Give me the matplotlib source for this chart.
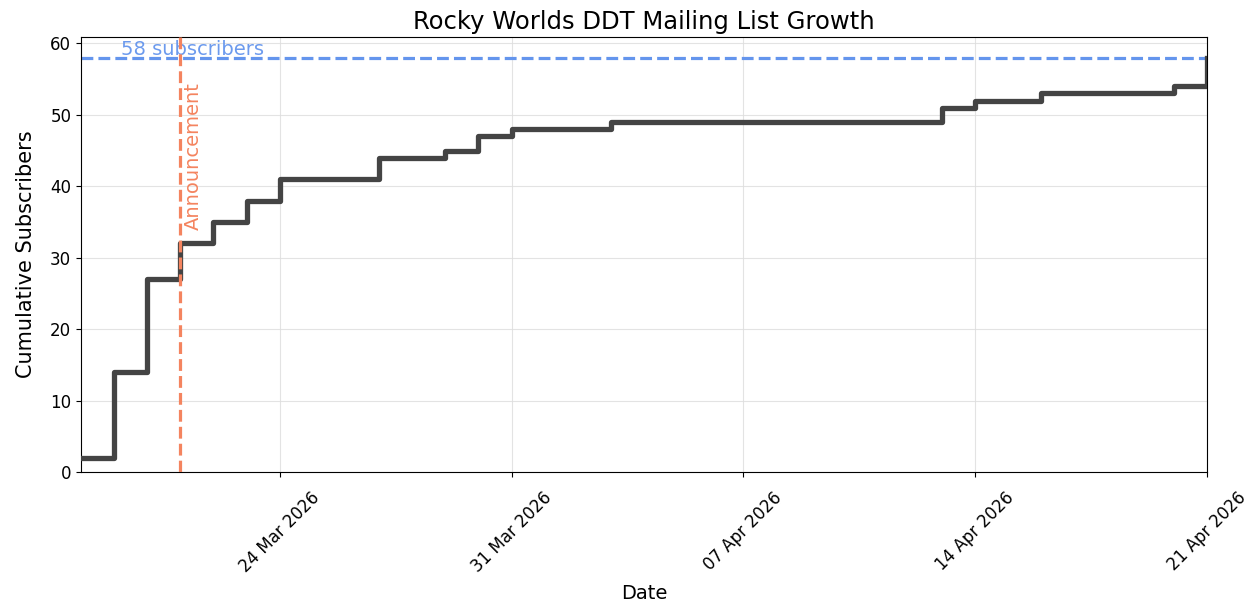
import matplotlib
matplotlib.use("Agg")
import matplotlib.pyplot as plt
import matplotlib.dates as mdates
import pandas as pd

dates = ["2026-03-18", "2026-03-19", "2026-03-20", "2026-03-21", "2026-03-22",
         "2026-03-23", "2026-03-24", "2026-03-27", "2026-03-29", "2026-03-30",
         "2026-03-31", "2026-04-03", "2026-04-13", "2026-04-14", "2026-04-16",
         "2026-04-20", "2026-04-21"]
cumulative = [2, 14, 27, 32, 35, 38, 41, 44, 45, 47, 48, 49, 51, 52, 53, 54, 58]
announcement_date = "2026-03-21"
total = 58
tick_dates = ["2026-03-24", "2026-03-31", "2026-04-07", "2026-04-14", "2026-04-21"]

x = pd.to_datetime(dates)
fig = plt.figure(figsize=(12.57, 6.02), dpi=100)
ax = fig.add_axes([81/1257, 1-472/602, (1207-81)/1257, (472-37)/602])

ax.step(x, cumulative, where="post", color="#444444", lw=3.8, zorder=3)
ax.axhline(total, color="#6495ED", ls="--", lw=2.3, zorder=2)
ann = pd.Timestamp(announcement_date)
ax.axvline(ann, color="#F4845F", ls="--", lw=2.3, zorder=4)

ax.text(pd.Timestamp("2026-03-19 05:00"), total - 0.2, f"{total} subscribers",
        color="#6495ED", fontsize=14, va="bottom", ha="left", alpha=0.95)
ax.text(ann + pd.Timedelta(hours=2.5), 54.6, "Announcement", color="#F4845F",
        fontsize=14, rotation=90, va="top", ha="left")

ax.set_xlim(pd.Timestamp("2026-03-18"), pd.Timestamp("2026-04-21"))
ax.set_ylim(0, 60.9)
ax.set_xticks(pd.to_datetime(tick_dates))
ax.xaxis.set_major_formatter(mdates.DateFormatter("%d %b %Y"))
plt.setp(ax.get_xticklabels(), rotation=45, ha="center", rotation_mode="default")
ax.tick_params(labelsize=12)
ax.tick_params(axis="x", pad=8.5)
ax.grid(True, color="#dddddd", lw=0.8, alpha=0.8)
ax.set_axisbelow(True)
ax.set_title("Rocky Worlds DDT Mailing List Growth", fontsize=17.5)
ax.set_xlabel("Date", fontsize=14, labelpad=5.5)
ax.set_ylabel("Cumulative Subscribers", fontsize=15, labelpad=10)

fig.savefig("out.png", dpi=100)
